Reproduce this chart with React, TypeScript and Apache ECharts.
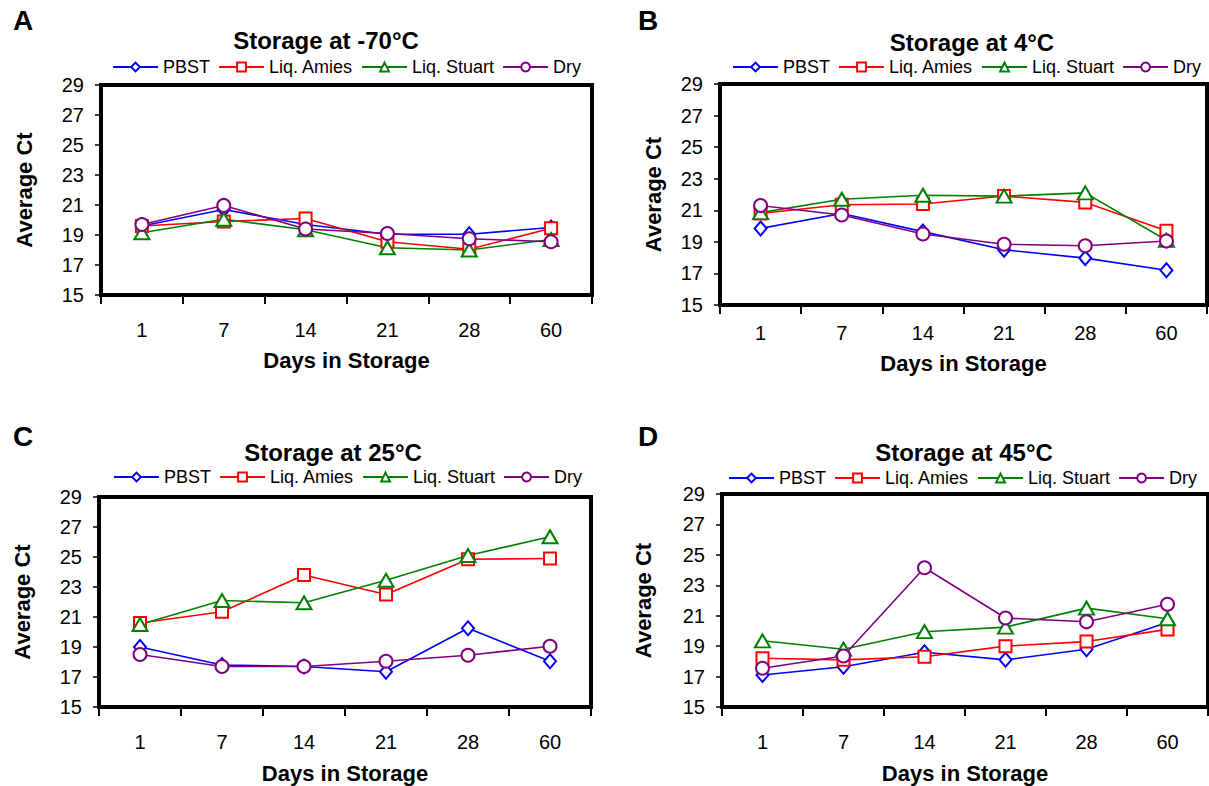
import React, { useEffect, useRef } from "react";
import * as echarts from "echarts";

const days = ["1", "7", "14", "21", "28", "60"];
const seriesNames = ["PBST", "Liq. Amies", "Liq. Stuart", "Dry"];
const yTicks = { min: 15, max: 29, interval: 2 };

// Panel A: -70°C
const pbstA = [19.6, 20.7, 19.7, 19.05, 19.05, 19.5];
const amiesA = [19.6, 19.9, 20.1, 18.55, 18.05, 19.45];
const stuartA = [19.15, 20.05, 19.35, 18.15, 18.0, 18.7];
const dryA = [19.7, 20.97, 19.4, 19.1, 18.75, 18.55];

// Panel B: 4°C
const pbstB = [19.85, 20.8, 19.65, 18.5, 17.97, 17.2];
const amiesB = [20.8, 21.35, 21.4, 21.9, 21.5, 19.7];
const stuartB = [20.85, 21.7, 21.95, 21.9, 22.1, 19.1];
const dryB = [21.3, 20.7, 19.5, 18.85, 18.75, 19.05];

// Panel C: 25°C
const pbstC = [19.0, 17.8, 17.7, 17.35, 20.25, 18.05];
const amiesC = [20.6, 21.35, 23.8, 22.5, 24.85, 24.9];
const stuartC = [20.5, 22.1, 21.95, 23.45, 25.1, 26.35];
const dryC = [18.5, 17.7, 17.7, 18.05, 18.45, 19.05];

// Panel D: 45°C
const pbstD = [17.1, 17.65, 18.6, 18.1, 18.8, 20.55];
const amiesD = [18.2, 18.1, 18.3, 19.0, 19.3, 20.1];
const stuartD = [19.35, 18.8, 19.95, 20.25, 21.5, 20.8];
const dryD = [17.55, 18.35, 24.15, 20.85, 20.6, 21.75];

const panelLetters = ["A", "B", "C", "D"];
const panelTitles = [
  "Storage at -70°C",
  "Storage at 4°C",
  "Storage at 25°C",
  "Storage at 45°C",
];
const xTitle = "Days in Storage";
const yTitle = "Average Ct";

const FONT = '"Liberation Sans", Arial, Helvetica, sans-serif';

const panelData = [
  [pbstA, amiesA, stuartA, dryA],
  [pbstB, amiesB, stuartB, dryB],
  [pbstC, amiesC, stuartC, dryC],
  [pbstD, amiesD, stuartD, dryD],
];

const seriesColors = ["#0000FF", "#FF0000", "#008000", "#800080"];
const seriesSymbols = ["emptyDiamond", "emptyRect", "emptyTriangle", "emptyCircle"];
const seriesSymbolSizes = [[12, 14], 12, [15, 13], 13];

const layout = [
  { grid: { left: 101, top: 85, width: 491, height: 210 }, labelMargin: 25, xNameGap: 54, yNameGap: 66, legendLeft: 112, legendTop: 58, letter: [23, 20], title: [326, 40] },
  { grid: { left: 720, top: 84, width: 487, height: 221 }, labelMargin: 18, xNameGap: 47, yNameGap: 56, legendLeft: 732, legendTop: 58, letter: [648, 20], title: [972, 42] },
  { grid: { left: 99, top: 497, width: 492, height: 210 }, labelMargin: 25, xNameGap: 55, yNameGap: 66, legendLeft: 113, legendTop: 468, letter: [23, 436], title: [333, 452] },
  { grid: { left: 722, top: 494, width: 486, height: 213 }, labelMargin: 25, xNameGap: 55, yNameGap: 68, legendLeft: 728, legendTop: 469, letter: [648, 436], title: [964, 452] },
];

function buildOption() {
  const grid = layout.map((l) => ({
    ...l.grid,
    show: true,
    borderColor: "#000",
    borderWidth: 4,
    backgroundColor: "transparent",
  }));

  const xAxis = layout.map((l, i) => ({
    type: "category",
    gridIndex: i,
    data: days,
    boundaryGap: true,
    axisLine: { show: true, lineStyle: { color: "#000", width: 4 } },
    axisTick: { show: true, length: 9, alignWithLabel: false, lineStyle: { color: "#000", width: 2 } },
    axisLabel: { color: "#000", fontSize: 20, fontFamily: FONT, margin: l.labelMargin },
    splitLine: { show: false },
    name: xTitle,
    nameLocation: "middle",
    nameGap: l.xNameGap,
    nameTextStyle: { color: "#000", fontSize: 22, fontWeight: "bold", fontFamily: FONT },
  }));

  const yAxis = layout.map((l, i) => ({
    type: "value",
    gridIndex: i,
    min: yTicks.min,
    max: yTicks.max,
    interval: yTicks.interval,
    axisLine: { show: true, lineStyle: { color: "#000", width: 4 } },
    axisTick: { show: true, length: 6, inside: false, lineStyle: { color: "#000", width: 1.5 } },
    axisLabel: { color: "#000", fontSize: 20, fontFamily: FONT, margin: 17 },
    splitLine: { show: false },
    name: yTitle,
    nameLocation: "middle",
    nameRotate: 90,
    nameGap: l.yNameGap,
    nameTextStyle: { color: "#000", fontSize: 22, fontWeight: "bold", fontFamily: FONT },
  }));

  const series: any[] = [];
  panelData.forEach((arrs, p) => {
    arrs.forEach((vals, s) => {
      series.push({
        type: "line",
        name: seriesNames[s],
        xAxisIndex: p,
        yAxisIndex: p,
        data: vals,
        symbol: seriesSymbols[s],
        symbolSize: seriesSymbolSizes[s],
        showSymbol: true,
        lineStyle: { color: seriesColors[s], width: 1.6 },
        itemStyle: { color: seriesColors[s], borderWidth: 1.8 },
        emphasis: { disabled: true },
      });
    });
  });

  const legend = layout.map((l) => ({
    left: l.legendLeft,
    top: l.legendTop,
    orient: "horizontal",
    padding: 0,
    itemWidth: 45,
    itemHeight: 11,
    itemGap: 8,
    selectedMode: false,
    textStyle: { color: "#000", fontSize: 18, fontFamily: FONT },
    data: seriesNames,
  }));

  const graphic: any[] = [];
  layout.forEach((l, i) => {
    graphic.push({
      type: "text",
      x: l.letter[0],
      y: l.letter[1],
      style: {
        text: panelLetters[i],
        fill: "#000",
        fontSize: 28,
        fontWeight: "bold",
        fontFamily: FONT,
        textAlign: "center",
        textVerticalAlign: "middle",
        align: "center",
        verticalAlign: "middle",
      },
    });
    graphic.push({
      type: "text",
      x: l.title[0],
      y: l.title[1],
      style: {
        text: panelTitles[i],
        fill: "#000",
        fontSize: 24,
        fontWeight: "bold",
        fontFamily: FONT,
        textAlign: "center",
        textVerticalAlign: "middle",
        align: "center",
        verticalAlign: "middle",
      },
    });
  });

  return {
    animation: false,
    backgroundColor: "#fff",
    textStyle: { fontFamily: FONT },
    grid,
    xAxis,
    yAxis,
    legend,
    series,
    graphic,
  };
}

export default function App() {
  const ref = useRef<HTMLDivElement>(null);
  useEffect(() => {
    document.body.style.margin = "0";
    if (!ref.current) return;
    const chart = echarts.init(ref.current, undefined, { renderer: "svg" });
    chart.setOption(buildOption() as any);
    return () => chart.dispose();
  }, []);
  return (
    <div
      ref={ref}
      style={{ position: "fixed", left: 0, top: 0, width: 1209, height: 786, background: "#fff" }}
    />
  );
}
